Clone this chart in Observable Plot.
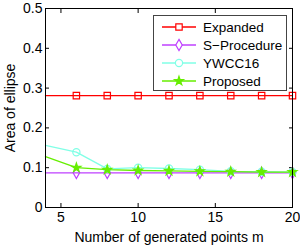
<!DOCTYPE html>
<html><head>
<meta charset="utf-8">
<script src="https://cdn.jsdelivr.net/npm/d3@7"></script>
<script src="https://cdn.jsdelivr.net/npm/@observablehq/plot@0.6"></script>
<style>
body{margin:0;background:#fff;font-family:"Liberation Sans",Arial,sans-serif;}
#wrap{position:relative;width:300px;height:245px;}
#legend{position:absolute;left:153px;top:15px;width:134px;height:76px;box-sizing:border-box;border:1px solid #444;background:#fff;}
#legend svg{display:block;}
</style>
</head><body>
<div id="wrap"><div id="legend"></div></div>
<script>
const m = [4, 6, 8, 10, 12, 14, 16, 18, 20];
const expanded   = [0.281, 0.281, 0.281, 0.281, 0.281, 0.281, 0.281, 0.281, 0.281];
const sProcedure = [0.087, 0.087, 0.087, 0.087, 0.087, 0.087, 0.087, 0.087, 0.087];
const ywcc16     = [0.156, 0.139, 0.097, 0.100, 0.098, 0.095, 0.091, 0.090, 0.089];
const proposed   = [0.128, 0.100, 0.095, 0.093, 0.092, 0.091, 0.090, 0.089, 0.089];
const seriesNames = ["Expanded", "S\u2212Procedure", "YWCC16", "Proposed"];
const seriesValues = [expanded, sProcedure, ywcc16, proposed];
const colors = ["#ff0000", "#bf40ff", "#80ffe6", "#66ee00"];
const symbols = ["square", "diamond", "circle", "star"];
const symbolR = [3.6, 3.4, 3.6, 2.8];
const xTicks = [5, 10, 15, 20];
const yTicks = [0, 0.1, 0.2, 0.3, 0.4, 0.5];

const rows = [];
seriesNames.forEach((s, i) => m.forEach((x, j) => rows.push({series: s, idx: i, m: x, v: seriesValues[i][j]})));

const marks = [];
seriesNames.forEach((s, i) => {
  const d = rows.filter(r => r.idx === i);
  marks.push(Plot.line(d, {x: "m", y: "v", stroke: colors[i], strokeWidth: 1.3}));
  const filled = symbols[i] === "star";
  marks.push(Plot.dot(d.filter(r => r.m > 4), {x: "m", y: "v", symbol: () => symbols[i], r: symbolR[i],
    stroke: colors[i], fill: filled ? colors[i] : "none", strokeWidth: 1.2}));
});

const chart = Plot.plot({
  width: 300, height: 245,
  marginLeft: 45, marginRight: 8, marginTop: 8, marginBottom: 38,
  style: {fontFamily: '"Liberation Sans", Arial, sans-serif', fontSize: "14px", color: "#000", background: "#fff"},
  x: {domain: [4, 20]},
  y: {domain: [0, 0.5]},
  symbol: {type: "identity"},
  marks: [
    Plot.axisX({ticks: xTicks, tickSize: -4, tickPadding: 9, tickFormat: d3.format("d"), label: "Number of generated points m", labelAnchor: "center", labelArrow: "none", labelOffset: 34, fontSize: 14}),
    Plot.axisX({anchor: "top", ticks: xTicks, tickSize: -4, text: null, label: null}),
    Plot.axisY({ticks: yTicks, tickSize: -4, tickPadding: 7, tickFormat: d => d === 0 ? "0" : d3.format(".1f")(d), label: "Area of ellipse", labelAnchor: "center", labelArrow: "none", labelOffset: 40, fontSize: 14}),
    Plot.axisY({anchor: "right", ticks: yTicks, tickSize: -4, text: null, label: null}),
    ...marks,
    Plot.frame({stroke: "#000"})
  ]
});
document.getElementById("wrap").prepend(chart);

// legend
const lg = d3.select("#legend").append("svg").attr("width", 132).attr("height", 74);
seriesNames.forEach((s, i) => {
  const y = 11 + i * 18;
  lg.append("line").attr("x1", 8).attr("x2", 42).attr("y1", y).attr("y2", y).attr("stroke", colors[i]).attr("stroke-width", 1.3);
  const sym = {square: d3.symbolSquare, diamond: d3.symbolDiamond, circle: d3.symbolCircle, star: d3.symbolStar}[symbols[i]];
  const filled = symbols[i] === "star";
  const r = symbolR[i];
  lg.append("path").attr("d", d3.symbol(sym, Math.PI * r * r)()).attr("transform", `translate(25,${y})`)
    .attr("stroke", colors[i]).attr("fill", filled ? colors[i] : "#fff").attr("stroke-width", 1.2);
  lg.append("text").attr("x", 49).attr("y", y).attr("dy", "0.35em").attr("font-size", 13.5).attr("fill", "#000")
    .attr("font-family", '"Liberation Sans", Arial, sans-serif').text(s);
});
</script>
</body></html>
